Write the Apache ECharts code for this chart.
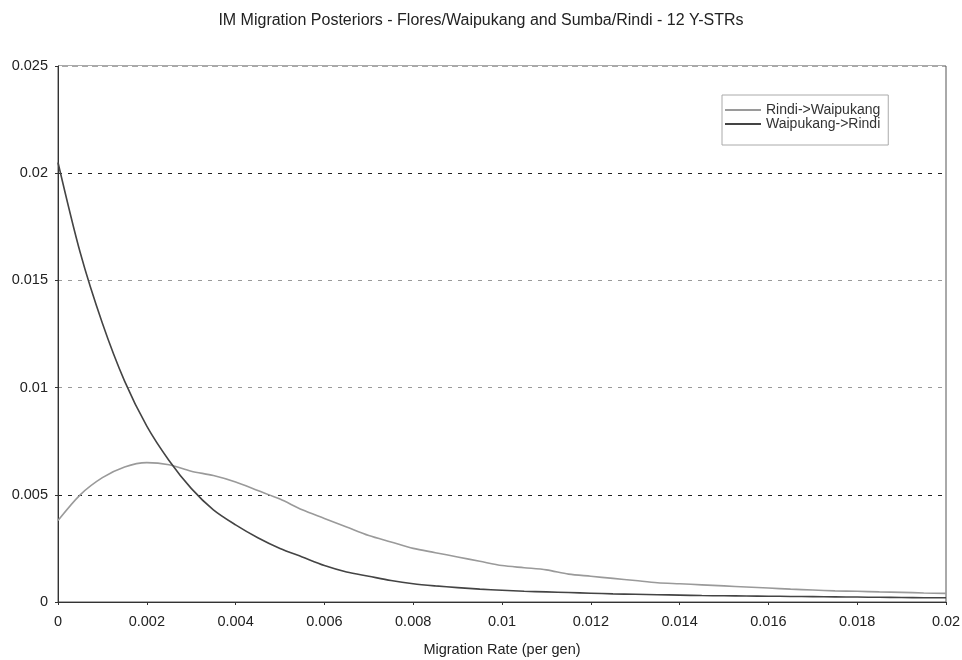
<!DOCTYPE html>
<html>
<head>
<meta charset="utf-8">
<script src="https://cdn.jsdelivr.net/npm/echarts@6/dist/echarts.min.js"></script>
<style>html,body{margin:0;padding:0;background:#fff}#c{width:962px;height:660px}</style>
</head>
<body>
<div id="c"></div>
<script>
var titleText = 'IM Migration Posteriors - Flores/Waipukang and Sumba/Rindi - 12 Y-STRs';
var xAxisName = 'Migration Rate (per gen)';
var seriesNames = ['Rindi->Waipukang', 'Waipukang->Rindi'];
var xValues = [0,0.0005,0.001,0.0015,0.002,0.0025,0.003,0.0035,0.004,0.0045,0.005,0.0055,0.006,0.0065,0.007,0.0075,0.008,0.0085,0.009,0.0095,0.01,0.0105,0.011,0.0115,0.012,0.0125,0.013,0.0135,0.014,0.0145,0.015,0.0155,0.016,0.0165,0.017,0.0175,0.018,0.0185,0.019,0.0195,0.02];
var rindiToWaipukang = [0.0038,0.0050,0.0058,0.0063,0.0065,0.0064,0.0061,0.0059,0.0056,0.0052,0.0048,0.0043,0.0039,0.0035,0.0031,0.0028,0.0025,0.0023,0.0021,0.0019,0.0017,0.0016,0.0015,0.0013,0.0012,0.0011,0.0010,0.0009,0.00085,0.0008,0.00075,0.0007,0.00065,0.0006,0.00056,0.00052,0.0005,0.00047,0.00045,0.00042,0.0004];
var waipukangToRindi = [0.0205,0.0163,0.0130,0.0103,0.0082,0.0066,0.0053,0.0043,0.0036,0.0030,0.0025,0.0021,0.0017,0.0014,0.0012,0.0010,0.00085,0.00075,0.00067,0.0006,0.00055,0.0005,0.00047,0.00044,0.00041,0.00038,0.00036,0.00034,0.00032,0.0003,0.00029,0.00028,0.00027,0.00026,0.00025,0.00024,0.00023,0.00022,0.00021,0.0002,0.0002];

function pairs(ys){ return xValues.map(function(x,i){ return [x, ys[i]]; }); }
var font = 'Liberation Sans, Arial, sans-serif';
var chart = echarts.init(document.getElementById('c'));
chart.setOption({
  animation: false,
  backgroundColor: '#fff',
  textStyle: { fontFamily: font },
  title: {
    text: titleText, left: 'center', top: 8,
    textStyle: { fontSize: 16, fontWeight: 'normal', color: '#222', fontFamily: font }
  },
  legend: {
    orient: 'vertical', left: 722, top: 95, width: 173,
    itemWidth: 36, itemHeight: 8, itemGap: 0,
    padding: [8, 8, 14, 2],
    borderColor: '#aaa', borderWidth: 1,
    itemStyle: { opacity: 0 },
    textStyle: { fontSize: 14, color: '#333', fontFamily: font },
    data: seriesNames
  },
  grid: { left: 58, right: 16, top: 66, bottom: 58, show: true, borderColor: '#555', borderWidth: 1, containLabel: false, outerBoundsMode: 'none' },
  xAxis: {
    type: 'value', min: 0, max: 0.02, interval: 0.002,
    name: xAxisName, nameLocation: 'middle', nameGap: 40,
    nameTextStyle: { fontSize: 14.5, color: '#222', fontFamily: font },
    axisLine: { lineStyle: { color: '#333' } },
    axisTick: { show: true, length: 3, lineStyle: { color: '#333' } },
    axisLabel: { fontSize: 14.5, color: '#222', margin: 12, formatter: function(v){ return String(+v.toFixed(3)); } },
    splitLine: { show: false }
  },
  yAxis: {
    type: 'value', min: 0, max: 0.025, interval: 0.005,
    axisLine: { show: true, lineStyle: { color: '#333' } },
    axisTick: { show: true, length: 3, lineStyle: { color: '#333' } },
    axisLabel: { fontSize: 14.5, color: '#222', margin: 10, formatter: function(v){ return String(+v.toFixed(3)); } },
    splitLine: { show: true, lineStyle: { type: [4, 6], width: 1.2, color: ['#fff', '#222', '#999', '#999', '#222', '#fff'] } }
  },
  series: [
    { name: seriesNames[0], type: 'line', data: pairs(rindiToWaipukang), symbol: 'none', smooth: 0.3,
      lineStyle: { color: '#9a9a9a', width: 1.6 }, itemStyle: { color: '#9a9a9a' } },
    { name: seriesNames[1], type: 'line', data: pairs(waipukangToRindi), symbol: 'none', smooth: 0.3,
      lineStyle: { color: '#444', width: 1.6 }, itemStyle: { color: '#444' } }
  ]
});
</script>
</body>
</html>
